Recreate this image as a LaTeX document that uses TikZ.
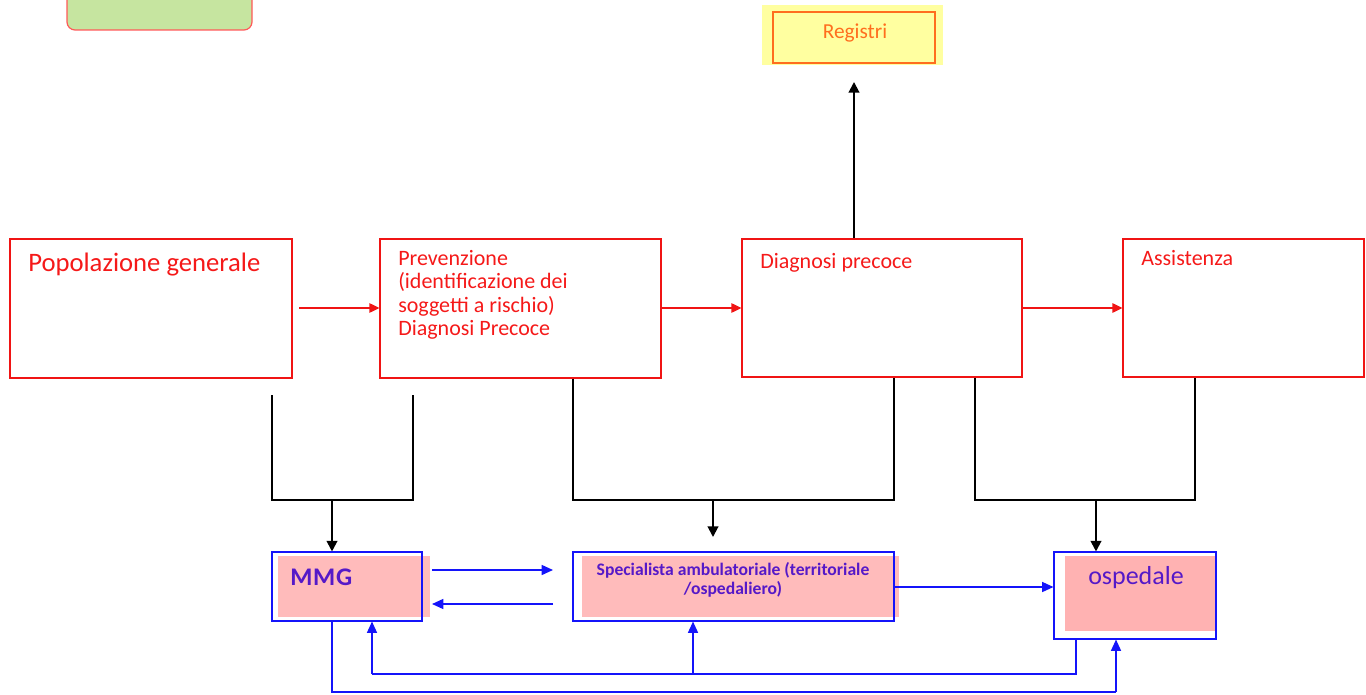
\documentclass[tikz,border=0pt]{standalone}
\usepackage{fontspec}
\setmainfont{Carlito}
\usetikzlibrary{arrows.meta,fit}
\definecolor{boxred}{RGB}{240,20,20}
\definecolor{txtred}{RGB}{245,25,25}
\definecolor{regorange}{RGB}{255,110,30}
\definecolor{regyellow}{RGB}{255,255,160}
\definecolor{lgreen}{RGB}{198,229,160}
\definecolor{pinkfill}{RGB}{255,187,187}
\definecolor{pinkfill2}{RGB}{255,178,178}
\definecolor{bblue}{RGB}{20,20,250}
\definecolor{btext}{RGB}{85,25,200}
\tikzset{
  redbox/.style={draw=boxred, line width=0.8pt, inner sep=0pt},
  bluebox/.style={draw=bblue, line width=0.8pt, inner sep=0pt},
  redtxt/.style={anchor=base west, inner sep=0pt, text=txtred, font=\fontsize{16.5}{17.6}\selectfont},
  bluetxt/.style={inner sep=0pt, text=btext},
  redarrow/.style={draw=boxred, line width=1.1pt, -{Triangle[length=7.5pt,width=7pt]}},
  blkline/.style={draw=black, line width=0.8pt},
  blkarrow/.style={draw=black, line width=1.5pt, -{Triangle[length=8pt,width=8pt]}},
  bluearrow/.style={draw=bblue, line width=1.1pt, -{Triangle[length=8.5pt,width=7.5pt]}},
  blueline/.style={draw=bblue, line width=1.1pt}
}
\begin{document}
\begin{tikzpicture}[x=0.75pt,y=-0.75pt]
\useasboundingbox (0,0) rectangle (1366,695);
% green box (cut at top)
\node[fit={(67,-20)(252,30)}, inner sep=0pt, fill=lgreen, draw=red!65, line width=0.9pt, rounded corners=6pt] (legend) {};
% Registri
\node[fit={(762,5)(943,65)}, inner sep=0pt, fill=regyellow] (regbg) {};
\node[fit={(773,12)(935,63)}, inner sep=0pt, draw=regorange, line width=0.8pt] (reg) {};
\node[inner sep=0pt, text=regorange, font=\fontsize{16}{18}\selectfont] at (855,33) {Registri};
% top row boxes
\node[redbox, fit={(10,239)(292,378)}] (pop) {};
\node[redbox, fit={(380,239)(661,378)}] (prev) {};
\node[redbox, fit={(742,239)(1022,377)}] (diag) {};
\node[redbox, fit={(1123,239)(1364,377)}] (assist) {};
\node[redtxt, font=\fontsize{20}{22}\selectfont] at (28,272) {Popolazione generale};
\node[redtxt] at (398,265) {Prevenzione};
\node[redtxt] at (398,288.5) {(identificazione dei};
\node[redtxt] at (398,312) {soggetti a rischio)};
\node[redtxt] at (398,335.5) {Diagnosi Precoce};
\node[redtxt] at (760,268) {Diagnosi precoce};
\node[redtxt] at (1141,266) {Assistenza};
% red arrows
\coordinate (r1) at (299,308);
\draw[redarrow] (r1) -- (r1 -| prev.west);
\draw[redarrow] (prev.east |- r1) -- (diag.west |- r1);
\draw[redarrow] (diag.east |- r1) -- (assist.west |- r1);
% arrow to Registri
\coordinate (regend) at (854,82);
\draw[blkarrow] (diag.north -| regend) -- (regend);
% bottom pink fills
\fill[pinkfill] (278,556) rectangle (430,617);
\fill[pinkfill] (582,556) rectangle (899,617);
\fill[pinkfill2] (1065,556) rectangle (1216,631);
% bottom boxes
\node[bluebox, fit={(272,552)(422,621)}] (mmg) {};
\node[bluebox, fit={(573,552)(894,621)}] (spec) {};
\node[bluebox, fit={(1054,552)(1216,639)}] (osp) {};
\node[bluetxt, anchor=base west, font=\fontsize{19}{21}\bfseries\selectfont] at (290,585) {M\kern0.6pt M\kern0.6pt G};
\node[bluetxt, align=center, font=\fontsize{13.2}{14.3}\bfseries\selectfont] at (733,580) {Specialista ambulatoriale (territoriale\\/ospedaliero)};
\node[bluetxt, anchor=base west, font=\fontsize{19.5}{21}\selectfont] at (1088,584) {ospedale};
% black brackets
\coordinate (a1) at (272,395); \coordinate (a2) at (413,395);
\coordinate (a3) at (272,500); \coordinate (a4) at (413,500);
\coordinate (aj) at (332,500);
\draw[blkline] (a1) -- (a3) -- (a4) -- (a2);
\draw[blkarrow] (aj) -- (mmg.north -| aj);
\coordinate (b3) at (573,500); \coordinate (b4) at (894,500);
\coordinate (bj) at (713,500); \coordinate (be) at (713,537);
\draw[blkline] (prev.south -| b3) -- (b3) -- (b4) -- (diag.south -| b4);
\draw[blkarrow] (bj) -- (be);
\coordinate (c3) at (975,500); \coordinate (c4) at (1195,500);
\coordinate (cj) at (1096,500);
\draw[blkline] (diag.south -| c3) -- (c3) -- (c4) -- (assist.south -| c4);
\draw[blkarrow] (cj) -- (osp.north -| cj);
% blue arrows between boxes
\coordinate (m1) at (432,570); \coordinate (m2) at (553,570);
\coordinate (m3) at (553,604); \coordinate (m4) at (432,604);
\draw[bluearrow] (m1) -- (m2);
\draw[bluearrow] (m3) -- (m4);
\coordinate (s1) at (894,587);
\draw[bluearrow] (s1) -- (osp.west |- s1);
% feedback loops
\coordinate (l1) at (1076,674); \coordinate (l2) at (372,674); \coordinate (l3) at (693,674);
\draw[blueline] (osp.south -| l1) -- (l1) -- (l2);
\draw[bluearrow] (l2) -- (mmg.south -| l2);
\draw[bluearrow] (l3) -- (spec.south -| l3);
\coordinate (k1) at (332,692); \coordinate (k2) at (1116,692);
\draw[blueline] (mmg.south -| k1) -- (k1) -- (k2);
\draw[bluearrow] (k2) -- (osp.south -| k2);
\end{tikzpicture}
\end{document}
